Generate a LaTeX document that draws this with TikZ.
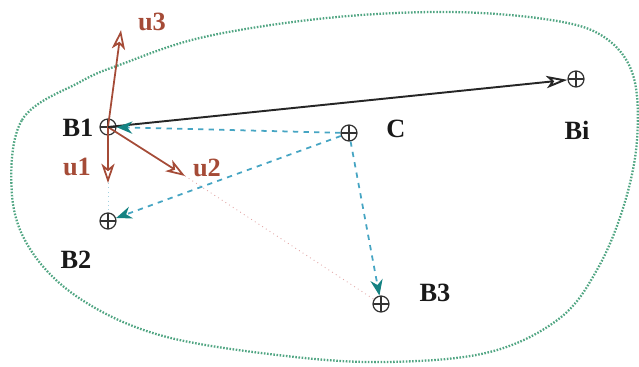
\documentclass[tikz,border=0pt]{standalone}
\usepackage{fontspec}
\setmainfont{Liberation Serif}
\usetikzlibrary{arrows.meta, calc}

\definecolor{vecbrown}{RGB}{165,75,55}
\definecolor{dashblue}{RGB}{70,165,195}
\definecolor{tiptea}{RGB}{20,130,130}
\definecolor{blobgreen}{RGB}{80,165,130}
\definecolor{faintpink}{RGB}{225,165,165}

\begin{document}
\begin{tikzpicture}[x=0.02cm, y=-0.02cm,
  pt/.style={draw=black!80, circle, minimum size=0.32cm, inner sep=0pt, line width=0.7pt,
             path picture={
               \draw[black!80, line width=0.6pt]
                 (path picture bounding box.north) -- (path picture bounding box.south)
                 (path picture bounding box.west) -- (path picture bounding box.east);}},
  lbl/.style={font=\fontsize{15}{17}\selectfont\bfseries, text=black!90},
  ulbl/.style={font=\fontsize{15}{17}\selectfont\bfseries, text=vecbrown},
  vec/.style={-{Stealth[open, length=11pt, width=7.5pt, inset=3pt]}, line width=1pt, color=vecbrown},
  far/.style={-{Stealth[open, length=12pt, width=7pt, inset=3pt]}, line width=1.1pt, color=black!85},
  cen/.style={-{Stealth[length=9pt, width=7pt, color=tiptea]}, dashed, line width=1pt, color=dashblue},
  faint/.style={dotted, line width=0.5pt, color=faintpink},
]
\useasboundingbox (0,0) rectangle (639,367);

% === Region outline ===
\draw[line width=1.3pt, dash pattern=on 0.9pt off 0.9pt, color=blobgreen] plot[smooth cycle, tension=0.6] coordinates {
  (12,195) (22,120) (80,82) (122,64) (204,37) (327,18) (449,12) (551,20)
  (604,37) (633,75) (637,140) (624,205) (598,268) (560,318) (490,352)
  (388,362) (286,356) (163,336) (82,300) (32,252)};

% === Points ===
\node[pt] (B1) at (108,127) {};
\node[pt] (Bi) at (576,79) {};
\node[pt] (C)  at (349,133) {};
\node[pt] (B2) at (108,221) {};
\node[pt] (B3) at (381,304) {};

% === Labels ===
\node[lbl] (labB1) at (78,128) {B1};
\node[lbl] (labB2) at (76,260) {B2};
\node[lbl] (labB3) at (435,293) {B3};
\node[lbl] (labC)  at (396,129) {C};
\node[lbl] (labBi) at (577,130) {Bi};

% === Local frame at B1 ===
\coordinate (u1tip) at (108,183);
\coordinate (u2tip) at (185,176);
\coordinate (u3tip) at (121,30);
\node[ulbl] (labu1) at (77,167) {u1};
\node[ulbl] (labu2) at (207,168) {u2};
\node[ulbl] (labu3) at (152,22) {u3};

\draw[faint] (u2tip) -- (B3);
\draw[dotted, line width=0.5pt, color=dashblue!50] (u1tip) -- (B2);

\draw[vec] (B1.center) -- (u3tip);
\draw[vec] (B1.center) -- (u1tip);
\draw[vec] (B1.center) -- (u2tip);

% === Connectors ===
\draw[far] (B1.center) -- (Bi);
\draw[cen] (C) -- (B1);
\draw[cen] (C) -- (B2);
\draw[cen] (C) -- (B3);

\end{tikzpicture}
\end{document}
